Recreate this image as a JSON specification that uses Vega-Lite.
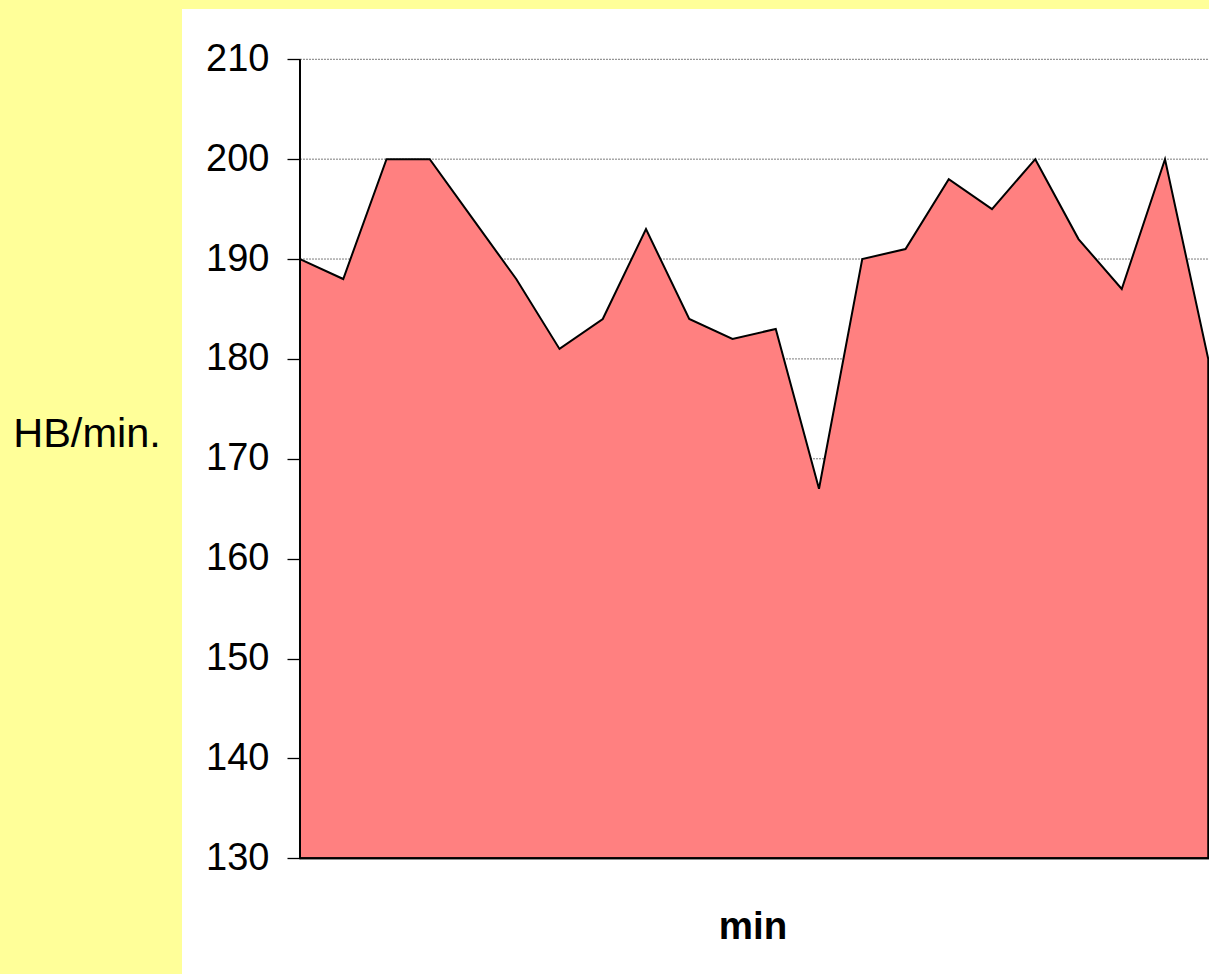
{
  "$schema": "https://vega.github.io/schema/vega-lite/v6.json",
  "width": 1027,
  "height": 965,
  "autosize": {"type": "none"},
  "padding": {"left": 182, "top": 9, "right": 0, "bottom": 0},
  "background": "#FFFF99",
  "config": {
    "view": {"fill": "white", "stroke": null},
    "font": "Liberation Sans",
    "axis": {"grid": false, "domain": false}
  },
  "datasets": {
    "hr": [
      {"t": 0, "hb": 190}, {"t": 1, "hb": 188}, {"t": 2, "hb": 200}, {"t": 3, "hb": 200},
      {"t": 4, "hb": 194}, {"t": 5, "hb": 188}, {"t": 6, "hb": 181}, {"t": 7, "hb": 184},
      {"t": 8, "hb": 193}, {"t": 9, "hb": 184}, {"t": 10, "hb": 182}, {"t": 11, "hb": 183},
      {"t": 12, "hb": 167}, {"t": 13, "hb": 190}, {"t": 14, "hb": 191}, {"t": 15, "hb": 198},
      {"t": 16, "hb": 195}, {"t": 17, "hb": 200}, {"t": 18, "hb": 192}, {"t": 19, "hb": 187},
      {"t": 20, "hb": 200}, {"t": 21, "hb": 180}
    ],
    "grid": [
      {"g": 140}, {"g": 150}, {"g": 160}, {"g": 170}, {"g": 180}, {"g": 190}, {"g": 200}, {"g": 210}
    ]
  },
  "encoding": {
    "x": {"type": "quantitative",
          "scale": {"domain": [-2.7283, 21.0173], "nice": false, "zero": false},
          "axis": {"title": "min", "ticks": false, "labels": false, "domain": false, "grid": false,
                   "titleX": 570.5, "titleY": -35.7, "titleAlign": "center", "titleBaseline": "alphabetic",
                   "titleFont": "Liberation Sans", "titleFontSize": 38.5, "titleFontWeight": "bold", "titleColor": "black"}},
    "y": {"type": "quantitative",
          "scale": {"domain": [118.415, 215.036], "nice": false, "zero": false},
          "axis": {"title": "HB/min.", "values": [130, 140, 150, 160, 170, 180, 190, 200, 210],
                   "grid": false, "domain": false, "ticks": true, "tickSize": 13, "tickColor": "black", "tickWidth": 1.3,
                   "labelFont": "Liberation Sans", "labelFontSize": 38, "labelColor": "black", "labelPadding": 18,
                   "labelOverlap": false, "labelFlush": false, "offset": -118,
                   "titleAngle": 0, "titleX": -213.5, "titleY": 437.7, "titleAlign": "center", "titleBaseline": "alphabetic",
                   "titleFont": "Liberation Sans", "titleFontSize": 41.5, "titleFontWeight": "normal", "titleColor": "black"}}
  },
  "layer": [
    {
      "data": {"name": "grid"},
      "mark": {"type": "rule", "color": "#7a7a7a", "strokeDash": [2, 1], "strokeWidth": 1},
      "encoding": {
        "y": {"field": "g"},
        "x": {"datum": 0},
        "x2": {"datum": 21.05}
      }
    },
    {
      "data": {"name": "hr"},
      "mark": {"type": "area", "color": "#FF8080", "stroke": "black", "strokeWidth": 2, "strokeJoin": "miter"},
      "encoding": {
        "x": {"field": "t"},
        "y": {"field": "hb"},
        "y2": {"datum": 130}
      }
    },
    {
      "data": {"values": [{}]},
      "mark": {"type": "rule", "color": "black", "strokeWidth": 2},
      "encoding": {
        "x": {"datum": 0},
        "y": {"datum": 130},
        "y2": {"datum": 210}
      }
    },
    {
      "data": {"values": [{}]},
      "mark": {"type": "rule", "color": "black", "strokeWidth": 2},
      "encoding": {
        "x": {"datum": 0},
        "x2": {"datum": 21.05},
        "y": {"datum": 130}
      }
    }
  ]
}
